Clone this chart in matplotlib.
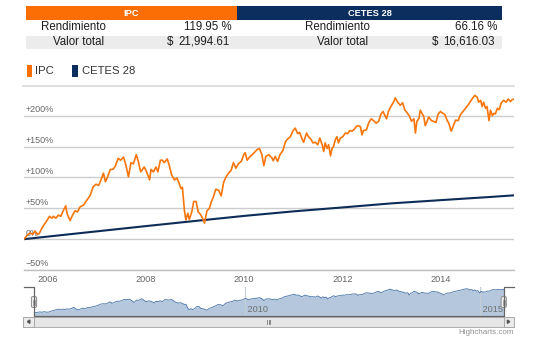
import matplotlib
matplotlib.use("Agg")
import matplotlib.pyplot as plt
from matplotlib.patches import Rectangle, FancyBboxPatch, Polygon
from matplotlib.lines import Line2D

plt.rcParams['font.family'] = ['Liberation Sans', 'DejaVu Sans']

# ---------------- data ----------------
ipc_years = [2005.51, 2005.57, 2005.63, 2005.69, 2005.73, 2005.78, 2005.82, 2005.89, 2005.96,
             2006.03, 2006.08, 2006.11, 2006.16, 2006.21, 2006.26, 2006.31, 2006.36, 2006.39,
             2006.45, 2006.50, 2006.55, 2006.60, 2006.65, 2006.72, 2006.79, 2006.86, 2006.92,
             2006.98, 2007.03, 2007.08, 2007.13, 2007.17, 2007.21, 2007.27, 2007.32, 2007.37,
             2007.43, 2007.48, 2007.54, 2007.59, 2007.64, 2007.69, 2007.74, 2007.80, 2007.84,
             2007.89, 2007.96, 2008.01, 2008.07, 2008.10, 2008.15, 2008.20, 2008.24, 2008.29,
             2008.33, 2008.37, 2008.43, 2008.47, 2008.52, 2008.58, 2008.63, 2008.67, 2008.71,
             2008.74, 2008.78, 2008.81, 2008.85, 2008.88, 2008.93, 2008.97, 2009.02, 2009.06,
             2009.10, 2009.15, 2009.19, 2009.24, 2009.29, 2009.33, 2009.37, 2009.42, 2009.48,
             2009.53, 2009.58, 2009.63, 2009.68, 2009.73, 2009.78, 2009.83, 2009.88, 2009.94,
             2009.99, 2010.02, 2010.06, 2010.12, 2010.19, 2010.26, 2010.31, 2010.36, 2010.40,
             2010.44, 2010.50, 2010.57, 2010.59, 2010.63, 2010.68, 2010.73, 2010.79, 2010.84,
             2010.88, 2010.94, 2010.99, 2011.04, 2011.09, 2011.13, 2011.18, 2011.21, 2011.27,
             2011.31, 2011.36, 2011.40, 2011.45, 2011.50, 2011.54, 2011.59, 2011.62, 2011.65,
             2011.69, 2011.72, 2011.76, 2011.79, 2011.82, 2011.86, 2011.89, 2011.92, 2011.96,
             2012.01, 2012.06, 2012.11, 2012.15, 2012.20, 2012.24, 2012.29, 2012.33, 2012.37,
             2012.40, 2012.43, 2012.49, 2012.54, 2012.59, 2012.64, 2012.69, 2012.74, 2012.79,
             2012.83, 2012.86, 2012.90, 2012.94, 2012.99, 2013.05, 2013.08, 2013.13, 2013.18,
             2013.23, 2013.27, 2013.32, 2013.37, 2013.41, 2013.46, 2013.49, 2013.52, 2013.56,
             2013.59, 2013.63, 2013.66, 2013.69, 2013.73, 2013.76, 2013.82, 2013.86, 2013.91,
             2013.95, 2014.00, 2014.05, 2014.09, 2014.14, 2014.17, 2014.22, 2014.27, 2014.31,
             2014.36, 2014.41, 2014.46, 2014.51, 2014.57, 2014.61, 2014.66, 2014.70, 2014.75,
             2014.78, 2014.82, 2014.85, 2014.88, 2014.92, 2014.95, 2014.99, 2015.02, 2015.06,
             2015.09, 2015.12, 2015.16, 2015.20, 2015.24, 2015.29, 2015.34, 2015.38, 2015.43,
             2015.46, 2015.50]
ipc_pct = [0, 6, 10, 8, 13, 8, 9, 20, 28,
           37, 34, 37, 34, 39, 37, 46, 54, 41,
           30, 39, 46, 44, 52, 55, 63, 71, 85,
           89, 87, 96, 107, 93, 100, 113, 113, 118,
           131, 128, 133, 119, 101, 124, 122, 137, 126,
           109, 117, 109, 96, 113, 109, 117, 109, 128,
           128, 124, 130, 120, 104, 96, 99, 91, 82,
           84, 47, 31, 42, 32, 44, 61, 61, 44,
           41, 34, 26, 46, 50, 61, 68, 81, 79,
           70, 92, 101, 107, 111, 124, 115, 122, 126,
           137, 140, 128, 134, 139, 145, 147, 137, 119,
           134, 137, 131, 127, 134, 126, 137, 144, 158,
           162, 166, 175, 180, 171, 173, 162, 157, 172,
           166, 162, 156, 157, 153, 164, 153, 142, 156,
           147, 153, 135, 147, 150, 162, 166, 156, 164,
           166, 172, 171, 176, 175, 178, 183, 184, 182,
           169, 176, 177, 189, 195, 192, 188, 191, 203,
           207, 202, 195, 207, 215, 223, 229, 222, 217,
           221, 210, 205, 199, 191, 195, 172, 191, 195,
           209, 203, 199, 184, 191, 198, 192, 191, 189,
           202, 207, 204, 202, 192, 188, 175, 185, 193,
           192, 202, 207, 212, 218, 223, 229, 233, 230,
           222, 225, 215, 222, 212, 215, 192, 209, 200,
           204, 203, 212, 210, 221, 225, 222, 227, 223,
           226, 227]

cetes_years = [2005.51, 2006, 2007, 2008, 2009, 2010, 2011, 2012, 2013, 2014, 2015, 2015.50]
cetes_pct = [0, 4.2, 12.7, 21.2, 29.5, 37.7, 45.0, 51.4, 58.0, 63.2, 68.3, 71.0]

x_ticks = [2006, 2008, 2010, 2012, 2014]
x_tick_labels = ['2006', '2008', '2010', '2012', '2014']
y_ticks = [-50, 0, 50, 100, 150, 200]
y_tick_labels = ['\u221250%', '0%', '+50%', '+100%', '+150%', '+200%']
nav_ticks = [2010, 2015]
nav_tick_labels = ['2010', '2015']

series_names = ['IPC', 'CETES 28']
rendimiento = ['119.95 %', '66.16 %']
valor_total = ['21,994.61', '16,616.03']

ORANGE = '#f7760b'
ORANGE_BAR = '#fa6e05'
NAVY = '#0d2c57'
NAVY_BAR = '#0b2e5e'
GRID = '#cccccc'
LABEL = '#666666'

W, H = 538, 339
fig = plt.figure(figsize=(W / 100, H / 100), dpi=100)


def fx(px):
    return px / W


def fy(py):
    return 1 - py / H


def frect(x0, y0, x1, y1, **kw):
    r = Rectangle((fx(x0), fy(y1)), fx(x1) - fx(x0), fy(y0) - fy(y1),
                  transform=fig.transFigure, **kw)
    fig.add_artist(r)
    return r


def fline(xs, ys, **kw):
    fig.add_artist(Line2D([fx(v) for v in xs], [fy(v) for v in ys],
                          transform=fig.transFigure, **kw))


def ftext(x, y, s, **kw):
    fig.text(fx(x), fy(y), s, **kw)


# ---------------- header table ----------------
TL, TM, TR = 25.7, 237.3, 501.7
frect(TL, 6.0, TM, 19.5, facecolor=ORANGE_BAR, edgecolor='none')
frect(TM, 6.0, TR, 19.5, facecolor=NAVY_BAR, edgecolor='none')
ftext((TL + TM) / 2, 13.0, series_names[0], color='white', fontsize=6.7,
      fontweight='bold', ha='center', va='center')
ftext((TM + TR) / 2, 13.0, series_names[1], color='white', fontsize=6.7,
      fontweight='bold', ha='center', va='center')
frect(TL, 35.5, TR, 48.5, facecolor='#ececec', edgecolor='none')

fs = 8.3
tc = '#1e1e1e'
ftext(73, 27, 'Rendimiento', fontsize=fs, ha='center', va='center', color=tc)
ftext(232, 27, rendimiento[0], fontsize=fs, ha='right', va='center', color=tc)
ftext(337, 27, 'Rendimiento', fontsize=fs, ha='center', va='center', color=tc)
ftext(497, 27, rendimiento[1], fontsize=fs, ha='right', va='center', color=tc)
ftext(79, 42, 'Valor total', fontsize=fs, ha='center', va='center', color=tc)
ftext(167, 42, '$', fontsize=fs, ha='left', va='center', color=tc)
ftext(230, 42, valor_total[0], fontsize=fs, ha='right', va='center', color=tc)
ftext(343, 42, 'Valor total', fontsize=fs, ha='center', va='center', color=tc)
ftext(432, 42, '$', fontsize=fs, ha='left', va='center', color=tc)
ftext(495, 42, valor_total[1], fontsize=fs, ha='right', va='center', color=tc)

# ---------------- legend ----------------
frect(26.5, 65, 32.3, 77, facecolor=ORANGE_BAR, edgecolor='none')
ftext(35, 71.5, series_names[0], fontsize=8.1, ha='left', va='center', color='#333333')
frect(72, 65, 77.8, 77, facecolor=NAVY_BAR, edgecolor='none')
ftext(81.5, 71.5, series_names[1], fontsize=8.1, ha='left', va='center', color='#333333')
fline([23, 514], [85.5, 85.5], color='#d8d8d8', lw=1.2)

# ---------------- main chart ----------------
ax = fig.add_axes([fx(24), fy(270), fx(514) - fx(24), fy(88) - fy(270)])
ax.set_xlim(ipc_years[0], ipc_years[-1])
ax.set_ylim(-50, 245)
for s in ['top', 'left', 'right']:
    ax.spines[s].set_visible(False)
ax.spines['bottom'].set_color('#c0c0c0')
ax.spines['bottom'].set_linewidth(1.0)
ax.set_yticks(y_ticks)
ax.set_yticklabels([])
ax.tick_params(axis='y', length=0)
ax.grid(axis='y', color=GRID, lw=1.0)
ax.set_axisbelow(True)
for t, lab in zip(y_ticks, y_tick_labels):
    ax.text(0.004, t + 2.5, lab, transform=ax.get_yaxis_transform(),
            fontsize=6.5, color=LABEL, ha='left', va='bottom', zorder=1)
ax.set_xticks(x_ticks)
ax.set_xticklabels(x_tick_labels, fontsize=6.6, color=LABEL)
ax.tick_params(axis='x', length=0, pad=3.3)
ax.plot(cetes_years, cetes_pct, color=NAVY, lw=1.5, zorder=3, solid_capstyle='butt')
ax.plot(ipc_years, ipc_pct, color=ORANGE, lw=1.2, zorder=4, solid_joinstyle='round')
ax.patch.set_alpha(0)

# ---------------- navigator ----------------
NL, NR, NT, NB = 34, 503.7, 287, 316
nav = fig.add_axes([fx(NL), fy(NB), fx(NR) - fx(NL), fy(NT) - fy(NB)])
nav.set_xlim(ipc_years[0], ipc_years[-1])
nav.set_ylim(-29, 250)
nav.fill_between(ipc_years, -29, ipc_pct, color='#b5c7dc', lw=0)
nav.plot(ipc_years, ipc_pct, color='#4572a7', lw=0.6)
nav.set_xticks(nav_ticks)
nav.set_xticklabels([])
nav.set_yticks([])
nav.tick_params(axis='x', length=0)
nav.grid(axis='x', color='#c4ccd6', lw=0.8)
for s in nav.spines.values():
    s.set_visible(False)
for t, lab in zip(nav_ticks, nav_tick_labels):
    nav.text(t, 0.06, ' ' + lab, transform=nav.get_xaxis_transform(), fontsize=6.6,
             color='#6f6f6f', ha='left', va='bottom')

# outline
fline([24, NL, NL, NR, NR, 514], [NT, NT, NB, NB, NT, NT], color='#666666', lw=0.9)

# scrollbar
SL, SR, ST, SB = 23.3, 513.7, 316.7, 326.7
frect(SL, ST, SR, SB, facecolor='#eeeeee', edgecolor='#bbbbbb', lw=0.7)
frect(NL, ST, NR, SB, facecolor='#e6e6e6', edgecolor='#b0b0b0', lw=0.7)
frect(SL, ST, NL, SB, facecolor='#ebebeb', edgecolor='#a8a8a8', lw=0.7)
frect(NR, ST, SR, SB, facecolor='#ebebeb', edgecolor='#a8a8a8', lw=0.7)
fig.add_artist(Polygon([(fx(27.5), fy(321.7)), (fx(29.8), fy(320)), (fx(29.8), fy(323.4))],
                       closed=True, transform=fig.transFigure, color='#555555'))
fig.add_artist(Polygon([(fx(509.7), fy(321.7)), (fx(507.4), fy(320)), (fx(507.4), fy(323.4))],
                       closed=True, transform=fig.transFigure, color='#555555'))
gx = (NL + NR) / 2
for d in (-1.5, 0, 1.5):
    fline([gx + d, gx + d], [319.8, 323.6], color='#777777', lw=0.6)

# handles
for hx in (NL, NR):
    fig.add_artist(FancyBboxPatch((fx(hx - 2.6), fy(307.5)), fx(5.2), fy(296.5) - fy(307.5),
                                  boxstyle='round,pad=0,rounding_size=0.004',
                                  transform=fig.transFigure, facecolor='#f0eeee',
                                  edgecolor='#8a8a8a', lw=0.7))
    for d in (-0.8, 0.8):
        fline([hx + d, hx + d], [299.5, 304.5], color='#888888', lw=0.5)

ftext(513.7, 332.5, 'Highcharts.com', fontsize=5.8, color='#909090', ha='right', va='center')

fig.savefig('out.png', dpi=100)
